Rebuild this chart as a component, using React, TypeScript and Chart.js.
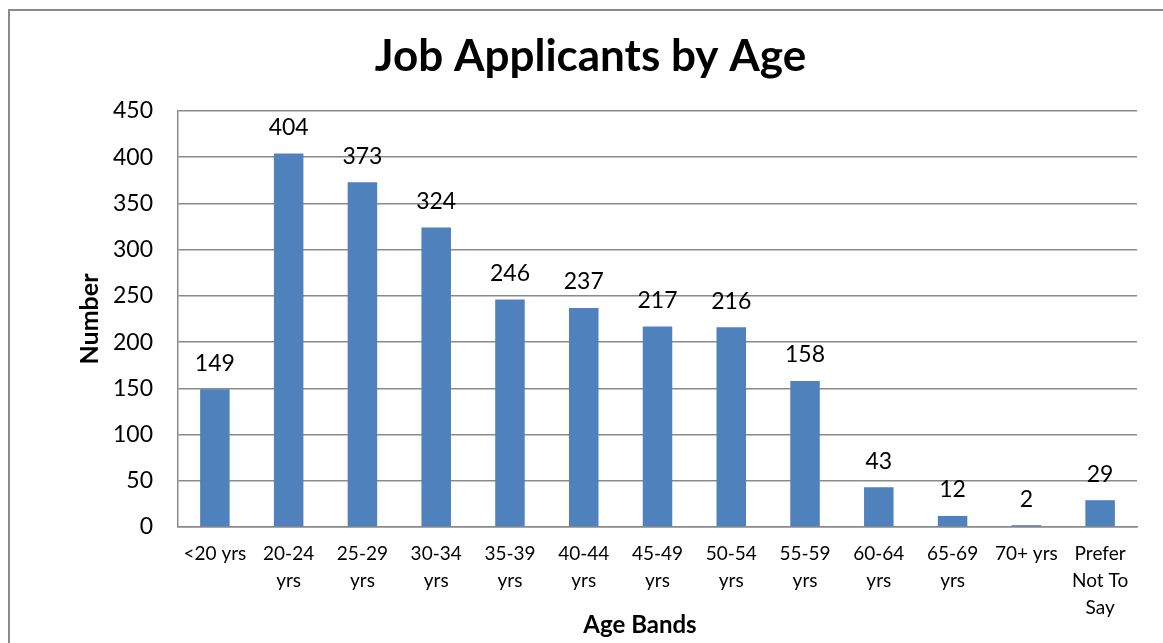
import React, { useEffect, useRef } from "react";
import { Chart, registerables } from "chart.js";

Chart.register(...registerables);

const categories: string[][] = [
  ["<20 yrs"],
  ["20-24", "yrs"],
  ["25-29", "yrs"],
  ["30-34", "yrs"],
  ["35-39", "yrs"],
  ["40-44", "yrs"],
  ["45-49", "yrs"],
  ["50-54", "yrs"],
  ["55-59", "yrs"],
  ["60-64", "yrs"],
  ["65-69", "yrs"],
  ["70+ yrs"],
  ["Prefer", "Not To", "Say"],
];
const applicants: number[] = [149, 404, 373, 324, 246, 237, 217, 216, 158, 43, 12, 2, 29];
const titleText = "Job Applicants by Age";
const xTitle = "Age Bands";
const yTitle = "Number";
const yMin = 0;
const yMax = 450;
const yStep = 50;

const FONT = "Lato, 'Open Sans', sans-serif";
const GRID = "#8a8a8a";

const dataLabels = {
  id: "dataLabels",
  afterDatasetsDraw(chart: any) {
    const ctx = chart.ctx;
    ctx.save();
    ctx.font = `23px ${FONT}`;
    ctx.fillStyle = "#000";
    ctx.textAlign = "center";
    ctx.textBaseline = "middle";
    const meta = chart.getDatasetMeta(0);
    meta.data.forEach((bar: any, i: number) => {
      ctx.fillText(String(chart.data.datasets[0].data[i]), bar.x, bar.y - 26);
    });
    ctx.restore();
  },
};

// Chart title and x-axis title, centred on the whole chart frame (as in the source)
const frameTitles = {
  id: "frameTitles",
  afterDraw(chart: any) {
    const ctx = chart.ctx;
    ctx.save();
    ctx.fillStyle = "#000";
    ctx.textAlign = "center";
    ctx.textBaseline = "alphabetic";
    ctx.font = `bold 44px ${FONT}`;
    ctx.fillText(titleText, 580.5, 59.5);
    ctx.font = `bold 24px ${FONT}`;
    ctx.fillText(xTitle, 630, 622);
    ctx.restore();
  },
};

export default function App() {
  const ref = useRef<HTMLCanvasElement>(null);
  useEffect(() => {
    if (!ref.current) return;
    const chart = new Chart(ref.current, {
      type: "bar",
      data: {
        labels: categories,
        datasets: [
          {
            data: applicants,
            backgroundColor: "#4F81BD",
            borderWidth: 0,
            barPercentage: 0.4,
            categoryPercentage: 1,
          },
        ],
      },
      options: {
        animation: false,
        responsive: false,
        maintainAspectRatio: false,
        layout: { padding: { left: 0, right: 26, top: 100, bottom: 0 } },
        plugins: {
          legend: { display: false },
          tooltip: { enabled: false },
          title: { display: false },
        },
        scales: {
          x: {
            grid: { display: false, drawTicks: false },
            border: { display: true, color: GRID, width: 1.5 },
            ticks: {
              color: "#000",
              font: { family: FONT, size: 19, lineHeight: 1.42 },
              padding: 13,
              maxRotation: 0,
              autoSkip: false,
            },
            afterFit(scale: any) {
              scale.height = 116;
            },
          },
          y: {
            min: yMin,
            max: yMax,
            grid: { color: GRID, lineWidth: 1.5, drawTicks: false },
            border: { display: true, color: GRID, width: 1.5 },
            ticks: {
              stepSize: yStep,
              color: "#000",
              font: { family: FONT, size: 23 },
              padding: 25,
            },
            title: {
              display: true,
              text: yTitle,
              color: "#000",
              font: { family: FONT, size: 25, weight: "bold", lineHeight: 1.2 },
              padding: { top: 65, bottom: 0 },
            },
            afterFit(scale: any) {
              scale.width = 168;
            },
          },
        },
      },
      plugins: [dataLabels, frameTitles],
    });
    return () => chart.destroy();
  }, []);

  return (
    <div style={{ position: "fixed", inset: 0, overflow: "hidden", background: "#fff" }}>
      <div
        style={{
          position: "absolute",
          left: 8,
          top: 9,
          width: 1300,
          height: 800,
          border: "2px solid #8a8a8a",
          boxSizing: "border-box",
        }}
      />
      <div style={{ position: "absolute", left: 10, top: 11, width: 1153, height: 632 }}>
        <canvas ref={ref} width={1153} height={632} style={{ display: "block" }} />
      </div>
    </div>
  );
}
